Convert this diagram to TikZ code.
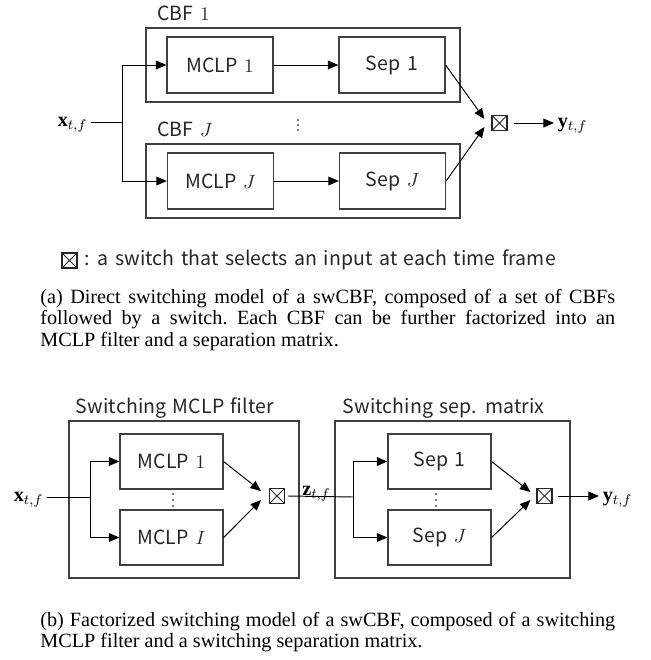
\documentclass[tikz,border=0pt]{standalone}
\usepackage{fontspec}
\setmainfont{Liberation Serif}
\newfontfamily\lblfont[WordSpace=1.45,LetterSpace=0.5]{Noto Sans CJK JP}
\usetikzlibrary{arrows.meta}

\tikzset{
  lbl/.style={font=\lblfont\fontsize{11.1}{12}\selectfont, text=black!85},
  blockA/.style={lbl, draw=black!75, line width=0.7pt, inner sep=0,
    minimum width=2.12cm, minimum height=1.12cm},
  blockB/.style={lbl, draw=black!75, line width=0.7pt, inner sep=0,
    minimum width=2.06cm, minimum height=1.1cm},
  frame/.style={draw=black!75, line width=0.7pt, inner sep=0},
  swbox/.style={draw=black!85, line width=0.6pt, inner sep=0, minimum size=0.3cm,
    path picture={\draw[black!85, line width=0.5pt]
      (path picture bounding box.north west) -- (path picture bounding box.south east)
      (path picture bounding box.north east) -- (path picture bounding box.south west);}},
  sig/.style={font=\fontsize{11.5}{13}\selectfont, inner sep=2pt},
  arr/.style={-{Triangle[length=6pt,width=5pt]}, line width=0.55pt},
  wire/.style={line width=0.55pt},
  caption/.style={inner sep=0, text width=11.5cm, align=justify,
    font=\fontsize{11.5}{12.4}\selectfont\frenchspacing},
}

\begin{document}
\begin{tikzpicture}[x=0.02cm, y=-0.02cm]
\useasboundingbox (0,0) rectangle (650,660);

% ---------- (a) direct switching model ----------
\node[frame, minimum width=6.28cm, minimum height=1.48cm] (cbf1) at (303,65) {};
\node[frame, minimum width=6.28cm, minimum height=1.48cm] (cbfJ) at (303,181) {};
\node[lbl, inner sep=0, anchor=base west] (cbf1lbl) at (157,20) {CBF $1$};
\node[lbl, inner sep=0, anchor=base west] (cbfJlbl) at (157,136) {CBF $J$};

\node[blockA] (mA1) at (220,65) {MCLP $1$};
\node[blockA] (sA1) at (392,65) {Sep 1};
\node[blockA] (mAJ) at (220.5,181) {MCLP $J$};
\node[blockA] (sAJ) at (392.5,181) {Sep $J$};

\foreach \yy in {120,125,130} \fill (298,\yy) circle (0.9);

\node[sig, anchor=base east] (xA) at (91,126) {$\mathbf{x}_{t,f}$};
\coordinate (brA) at (122,122);
\node[swbox] (swA) at (499.5,123) {};
\node[sig, anchor=base west] (yA) at (554,127) {$\mathbf{y}_{t,f}$};

\draw[wire] (brA -| xA.east) -- (brA);
\draw[arr] (brA) |- (mA1.west);
\draw[arr] (brA) |- (mAJ.west);
\draw[arr] (mA1) -- (sA1);
\draw[arr] (mAJ) -- (sAJ);
\draw[arr] (sA1.east) -- ([shift={(-7,-4)}]swA.west);
\draw[arr] (sAJ.east) -- ([shift={(-7,4)}]swA.west);
\draw[arr] ([xshift=0.12cm]swA.east) -- (swA -| yA.west);

% legend
\node[swbox] (swL) at (69.5,260.5) {};
\node[lbl, inner sep=0, anchor=base west] (legend) at (84,265)
  {: a switch that selects an input at each time frame};

\node[caption, anchor=base west] (capA) at (40,303)
  {(a) Direct switching model of a swCBF, composed of a set of CBFs\linebreak
   followed by a switch. Each CBF can be further factorized into an\linebreak
   MCLP filter and a separation matrix.};

% ---------- (b) factorized switching model ----------
\node[frame, minimum width=4.6cm, minimum height=3.14cm] (swmclp) at (184,499.5) {};
\node[frame, minimum width=4.7cm, minimum height=3.14cm] (swsep) at (452.5,499.5) {};
\node[lbl, inner sep=0, anchor=base] (swmclplbl) at (175,413) {Switching MCLP filter};
\node[lbl, inner sep=0, anchor=base] (swseplbl) at (443.5,413) {Switching sep. matrix};

\node[blockB] (mB1) at (171.5,461.5) {MCLP $1$};
\node[blockB] (mBI) at (171.5,537.5) {MCLP $I$};
\node[blockB] (sB1) at (439.5,461.5) {Sep 1};
\node[blockB] (sBJ) at (439.5,537.5) {Sep $J$};

\foreach \yy in {494,500,506} {
  \fill (173,\yy) circle (0.9);
  \fill (436,\yy) circle (0.9);
}

\node[sig, anchor=base east] (xB) at (47,501) {$\mathbf{x}_{t,f}$};
\coordinate (brB) at (90,497);
\node[swbox] (swB1) at (277,496) {};
\coordinate (brB2) at (353,497);
\node[sig, inner sep=0, anchor=base west] (zB) at (302,495) {$\mathbf{z}_{t,f}$};
\node[swbox] (swB2) at (544.5,496) {};
\node[sig, anchor=base west] (yB) at (599,501) {$\mathbf{y}_{t,f}$};

\draw[wire] (brB -| xB.east) -- (brB);
\draw[arr] (brB) |- (mB1.west);
\draw[arr] (brB) |- (mBI.west);
\draw[arr] (mB1.east) -- ([shift={(-8,-5)}]swB1.west);
\draw[arr] (mBI.east) -- ([shift={(-8,4)}]swB1.west);
\draw[wire] ([xshift=0.06cm]swB1.east) -- (brB2);
\draw[arr] (brB2) |- (sB1.west);
\draw[arr] (brB2) |- (sBJ.west);
\draw[arr] (sB1.east) -- ([shift={(-6,-4)}]swB2.west);
\draw[arr] (sBJ.east) -- ([shift={(-6,4)}]swB2.west);
\draw[arr] ([xshift=0.1cm]swB2.east) -- (swB2 -| yB.west);

\node[caption, anchor=base west] (capB) at (40,626)
  {(b) Factorized switching model of a swCBF, composed of a switching\linebreak
   MCLP filter and a switching separation matrix.};
\end{tikzpicture}
\end{document}
